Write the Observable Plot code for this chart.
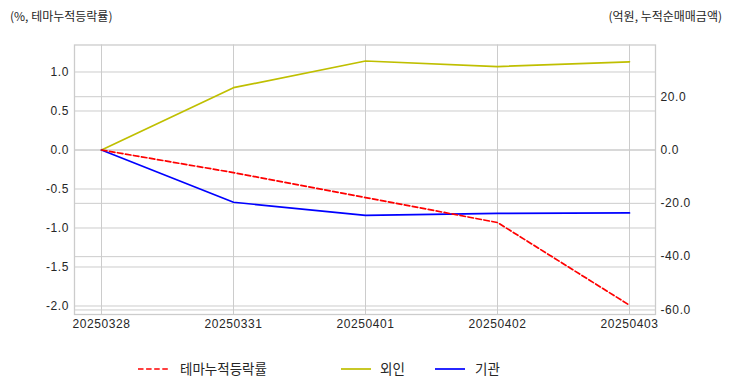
<!DOCTYPE html>
<html><head><meta charset="utf-8">
<script src="https://cdn.jsdelivr.net/npm/d3@7"></script>
<script src="https://cdn.jsdelivr.net/npm/@observablehq/plot@0.6"></script>
<style>
body{margin:0;background:#fff;}
#wrap{position:relative;width:732px;height:392px;font-family:"Noto Sans CJK KR","Noto Sans",sans-serif;color:#262626;overflow:hidden;}
#wrap svg.plot{position:absolute;left:0;top:0;}
.lab{position:absolute;font-size:12px;line-height:12px;white-space:nowrap;}
.leg{position:absolute;font-size:13.5px;line-height:14px;white-space:nowrap;}
.sw{position:absolute;}
</style></head><body><div id="wrap"></div>
<script>
// ---- data ----
const dates = ["20250328","20250331","20250401","20250402","20250403"];
const themeReturn = [0, -0.29, -0.61, -0.93, -1.99];     // % (left axis)
const foreignNet = [0, 23.4, 33.4, 31.3, 33.1];          // 억원 (right axis)
const institutionNet = [0, -19.6, -24.5, -23.8, -23.6];  // 억원 (right axis)
const leftTicks = [-2, -1.5, -1, -0.5, 0, 0.5, 1];
const rightTicks = [-60, -40, -20, 0, 20];
const leftDomain = [-2.109, 1.346];
const rightDomain = [-61.7, 39.4];
const leftTitle = "(%, 테마누적등락률)";
const rightTitle = "(억원, 누적순매매금액)";
const seriesNames = ["테마누적등락률", "외인", "기관"];
const seriesColors = ["#ff0000", "#bfbf00", "#0000ff"];

// map right-axis values into left-axis space (twin axis)
const r2l = d3.scaleLinear().domain(rightDomain).range(leftDomain);
const theme = dates.map((d, i) => ({date: d, v: themeReturn[i]}));
const foreign = dates.map((d, i) => ({date: d, v: r2l(foreignNet[i])}));
const inst = dates.map((d, i) => ({date: d, v: r2l(institutionNet[i])}));
const grid = {stroke: "#cccccc", strokeOpacity: 1, strokeWidth: 1};

const chart = Plot.plot({
  width: 732, height: 392,
  marginTop: 44.5, marginBottom: 78, marginLeft: 74, marginRight: 77,
  x: {type: "point", domain: dates, padding: 0.2},
  y: {domain: leftDomain},
  style: {fontFamily: "'Liberation Sans', Arial, sans-serif", fontSize: "12px", letterSpacing: "0.6px", color: "#262626", background: "transparent"},
  marks: [
    Plot.gridX(dates, grid),
    Plot.gridY(leftTicks, grid),
    Plot.gridY(rightTicks.map(r2l), grid),
    Plot.frame({stroke: "#cccccc", strokeWidth: 1.3}),
    Plot.axisY(leftTicks, {anchor: "left", tickSize: 0, tickPadding: 5.5, label: null, tickFormat: d => d.toFixed(1)}),
    Plot.axisY(rightTicks.map(r2l), {anchor: "right", tickSize: 0, tickPadding: 5, label: null,
      tickFormat: d => ((Math.round(r2l.invert(d) * 10) / 10) + 0).toFixed(1)}),
    Plot.axisX(dates, {anchor: "bottom", tickSize: 0, tickPadding: 5, label: null}),
    Plot.line(foreign, {x: "date", y: "v", stroke: seriesColors[1], strokeWidth: 1.7}),
    Plot.line(inst, {x: "date", y: "v", stroke: seriesColors[2], strokeWidth: 1.7}),
    Plot.line(theme, {x: "date", y: "v", stroke: seriesColors[0], strokeWidth: 1.7, strokeDasharray: "5.5,2.6"})
  ]
});
chart.classList.add("plot");
const wrap = document.getElementById("wrap");
wrap.appendChild(chart);

function addDiv(cls, text, style) {
  const el = document.createElement("div");
  el.className = cls;
  el.textContent = text;
  Object.assign(el.style, style);
  wrap.appendChild(el);
  return el;
}
addDiv("lab", leftTitle, {left: "10px", top: "10px"});
addDiv("lab", rightTitle, {right: "10px", top: "10px"});

// legend
const legX = [{line: 138, text: 180}, {line: 341, text: 380}, {line: 435, text: 475}];
seriesNames.forEach((name, i) => {
  const s = document.createElementNS("http://www.w3.org/2000/svg", "svg");
  s.setAttribute("class", "sw");
  s.setAttribute("width", 30); s.setAttribute("height", 6);
  s.style.left = legX[i].line + "px"; s.style.top = "365.5px";
  const l = document.createElementNS("http://www.w3.org/2000/svg", "line");
  l.setAttribute("x1", 0); l.setAttribute("x2", 30); l.setAttribute("y1", 3); l.setAttribute("y2", 3);
  l.setAttribute("stroke", seriesColors[i]); l.setAttribute("stroke-width", 1.7);
  if (i === 0) l.setAttribute("stroke-dasharray", "5.5,2.6");
  s.appendChild(l);
  wrap.appendChild(s);
  addDiv("leg", name, {left: legX[i].text + "px", top: "361px"});
});
</script>
</body></html>
